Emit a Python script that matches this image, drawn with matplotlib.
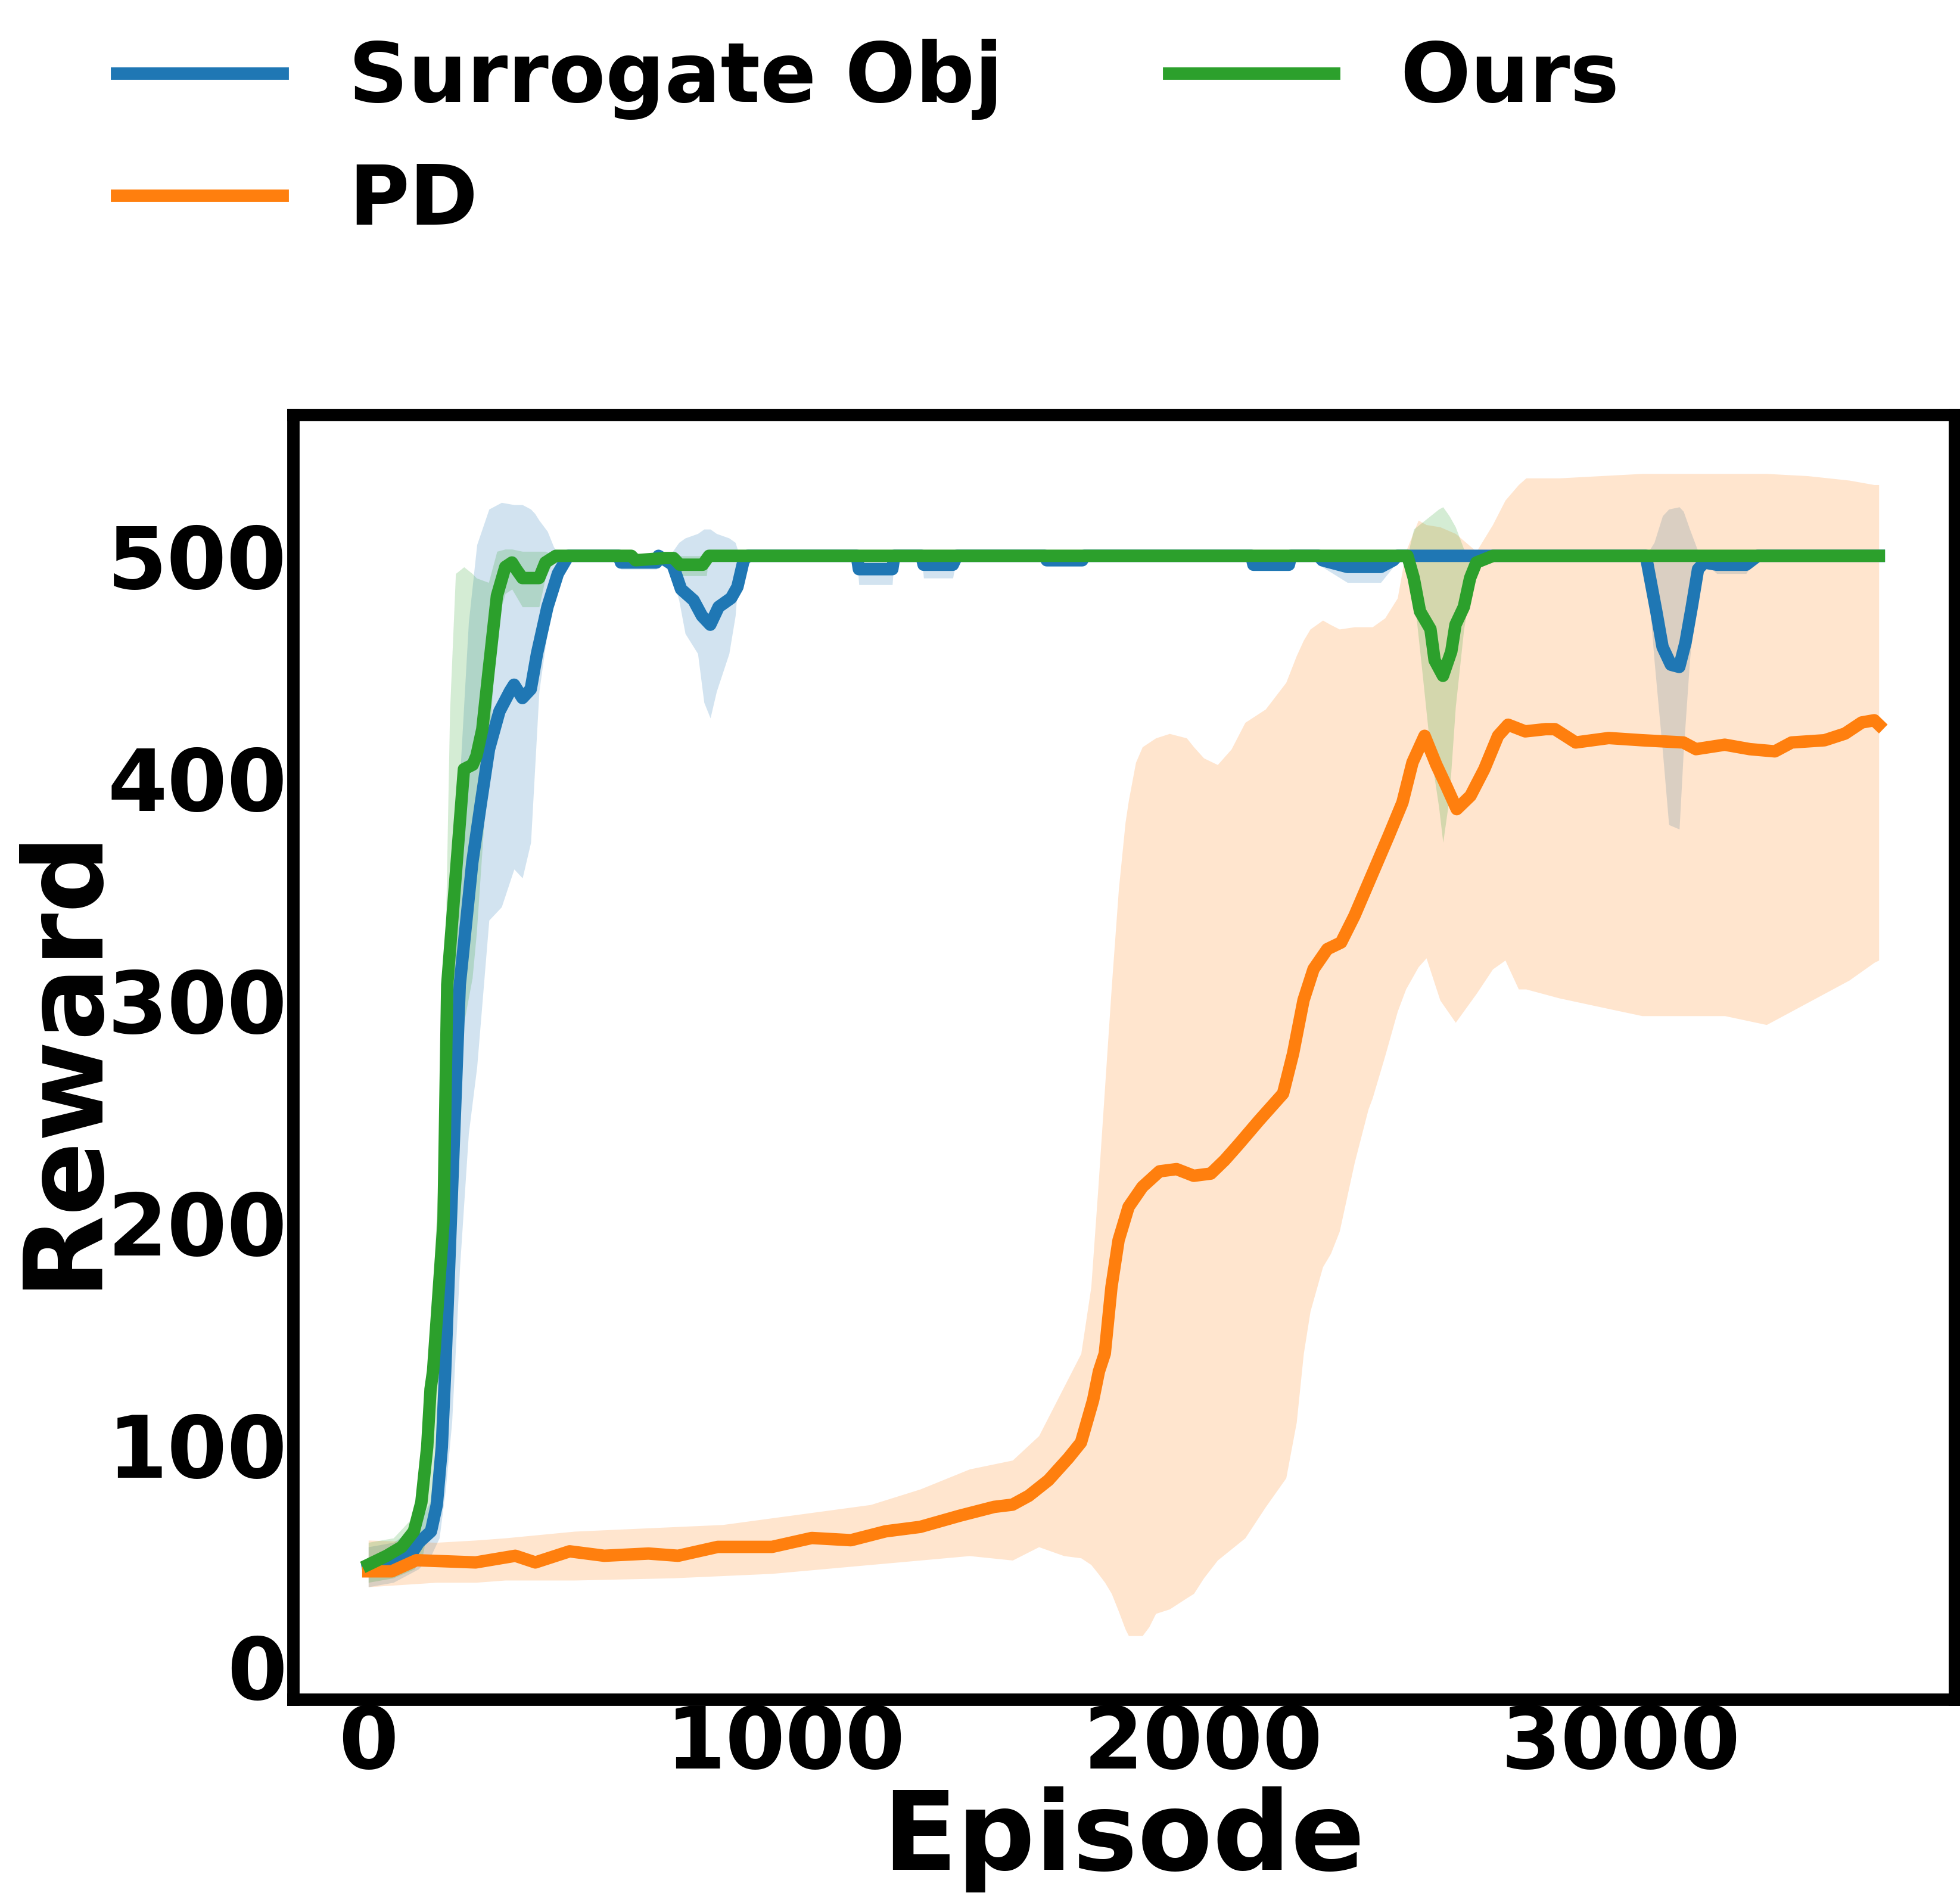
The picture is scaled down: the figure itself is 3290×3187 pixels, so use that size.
import numpy as np
import matplotlib
matplotlib.use("Agg")
import matplotlib.pyplot as plt

plt.rcParams['font.family'] = ['DejaVu Sans']
plt.rcParams['font.weight'] = 'bold'
plt.rcParams['axes.labelweight'] = 'bold'

# ---- mean curves ----
surr_x = [0, 50, 100, 121, 150, 164, 176, 184, 219, 249, 269, 289, 314, 339, 349, 369, 389, 404, 429, 454, 479,
          600, 605, 690, 695, 729, 749, 779, 799, 819, 839, 869, 884, 899, 909,
          1170, 1175, 1255, 1260, 1325, 1330, 1400, 1410, 1620, 1625, 1710, 1715,
          2115, 2120, 2205, 2210, 2276, 2285, 2345, 2425, 2455, 2465,
          3060, 3070, 3085, 3100, 3120, 3140, 3155, 3170, 3185, 3200, 3230, 3300, 3328, 3618]
surr_y = [44, 46, 50, 56, 61, 73, 99, 133, 307, 362, 388, 413, 430, 439, 442, 436, 440, 456, 477, 492, 500,
          500, 497, 497, 500, 496, 485, 480, 473, 469, 477, 481, 486, 498, 500,
          500, 494, 494, 500, 500, 496, 496, 500, 500, 498, 498, 500,
          500, 496, 496, 500, 500, 498, 495, 495, 498, 500,
          500, 490, 475, 459, 451, 450, 461, 477, 494, 497, 496, 496, 500, 500]

pd_x = [0, 56, 115, 257, 352, 400, 482, 565, 671, 742, 837, 967, 1062, 1156, 1239, 1322, 1416, 1499, 1543,
        1582, 1629, 1677, 1707, 1736, 1750, 1764, 1780, 1797, 1821, 1854, 1895, 1936, 1977, 2018, 2051,
        2084, 2134, 2191, 2215, 2240, 2264, 2297, 2330, 2362, 2403, 2444, 2477, 2501, 2530, 2558, 2583,
        2607, 2640, 2673, 2706, 2730, 2771, 2820, 2842, 2892, 2971, 3051, 3150, 3180, 3249, 3309, 3369,
        3409, 3488, 3537, 3577, 3607, 3618]
pd_y = [43, 43, 48, 47, 50, 47, 52, 50, 51, 50, 54, 54, 58, 57, 61, 63, 68, 72, 73,
        77, 84, 94, 101, 120, 133, 141, 171, 192, 207, 216, 223, 224, 221, 222, 228,
        235, 246, 258, 276, 300, 314, 323, 326, 338, 356, 374, 389, 407, 419, 406, 396,
        386, 392, 404, 419, 424, 421, 422, 422, 416, 418, 417, 416, 413, 415, 413, 412,
        416, 417, 420, 425, 426, 424]

ours_x = [0, 44, 80, 109, 127, 141, 149, 155, 180, 189, 229, 250, 259, 273, 288, 308, 328, 344, 354, 369,
          409, 424, 449, 630, 640, 711, 731, 746, 801, 816,
          2489, 2504, 2519, 2544, 2554, 2574, 2594, 2604, 2624, 2639, 2654, 2694, 3618]
ours_y = [46, 50, 54, 61, 74, 99, 125, 133, 200, 307, 404, 406, 410, 422, 448, 482, 495, 497, 494, 490,
          490, 497, 500, 500, 498, 499, 499, 496, 496, 500,
          500, 490, 475, 467, 453, 446, 457, 469, 477, 490, 497, 500, 500]

# ---- shaded bands (lower / upper) ----
surr_bx = [0, 60, 120, 150, 170, 185, 200, 219, 240, 260, 289, 319, 349, 369, 389, 399, 409, 429, 444, 459,
           600, 605, 690, 695, 729, 744, 759, 789, 804, 819, 834, 864, 879, 889, 909,
           1170, 1175, 1255, 1260, 1325, 1330, 1400, 1410, 1620, 1625, 1710, 1715,
           2115, 2120, 2205, 2210, 2276, 2285, 2345, 2425, 2455, 2465,
           3060, 3080, 3100, 3115, 3140, 3150, 3165, 3185, 3200, 3230, 3300, 3328, 3618]
surr_lo = [36, 38, 44, 50, 58, 80, 110, 180, 240, 270, 336, 342, 359, 355, 371, 405, 439, 466, 494, 500,
           500, 494, 494, 500, 490, 480, 465, 456, 434, 427, 439, 456, 473, 497, 500,
           500, 487, 487, 500, 500, 490, 490, 500, 500, 497, 497, 500,
           500, 496, 496, 500, 500, 495, 488, 488, 495, 500,
           500, 453, 412, 379, 377, 412, 453, 490, 497, 492, 492, 500, 500]
surr_hi = [54, 56, 64, 75, 110, 200, 330, 400, 470, 505, 521, 524, 523, 523, 521, 519, 516, 511, 504, 500,
           500, 500, 500, 500, 502, 506, 508, 510, 512, 512, 510, 508, 506, 500, 500,
           500, 500, 500, 500, 500, 500, 500, 500, 500, 500, 500, 500,
           500, 500, 500, 500, 500, 500, 500, 500, 500, 500,
           500, 506, 518, 521, 522, 520, 512, 502, 500, 500, 500, 500, 500]

pd_bx = [0, 163, 257, 328, 494, 730, 849, 967, 1085, 1203, 1322, 1440, 1543, 1606, 1666, 1707, 1731, 1748,
         1764, 1780, 1797, 1813, 1821, 1838, 1854, 1870, 1886, 1919, 1960, 1977, 2001, 2034, 2067, 2100,
         2149, 2198, 2223, 2240, 2256, 2286, 2305, 2326, 2362, 2395, 2405, 2435, 2465, 2485, 2515, 2534,
         2567, 2604, 2654, 2693, 2723, 2755, 2773, 2852, 2951, 3051, 3150, 3249, 3349, 3448, 3547, 3607, 3618]
pd_lo = [36, 38, 38, 39, 39, 40, 41, 42, 44, 46, 48, 50, 48, 54, 50, 49, 46, 42,
         38, 33, 25, 17, 14, 14, 14, 18, 24, 26, 31, 33, 40, 48, 53, 58,
         72, 85, 110, 141, 160, 180, 186, 196, 227, 251, 256, 275, 295, 305, 315, 319,
         300, 290, 303, 314, 318, 305, 305, 301, 297, 293, 293, 293, 289, 299, 309, 317, 318]
pd_hi = [57, 56, 57, 58, 61, 63, 64, 67, 70, 73, 80, 89, 93, 104, 126, 141, 171, 216,
         261, 306, 350, 380, 390, 407, 414, 416, 418, 420, 418, 414, 409, 406, 413, 425,
         431, 443, 455, 462, 467, 471, 469, 467, 468, 468, 468, 472, 481, 502, 516, 514,
         513, 510, 502, 514, 525, 532, 535, 535, 536, 537, 537, 537, 537, 536, 534, 532, 532]

ours_bx = [0, 60, 110, 130, 150, 170, 185, 195, 209, 229, 249, 259, 288, 308, 328, 344, 369, 409, 424, 449,
           730, 740, 810, 816,
           2489, 2504, 2524, 2544, 2564, 2574, 2589, 2604, 2624, 2644, 2664, 2694, 3618]
ours_lo = [38, 40, 44, 50, 70, 100, 150, 200, 250, 290, 310, 330, 410, 470, 483, 485, 477, 477, 490, 500,
           500, 491, 491, 500,
           500, 483, 448, 412, 387, 371, 391, 432, 467, 490, 498, 500, 500]
ours_hi = [56, 58, 68, 85, 150, 230, 330, 430, 492, 495, 492, 490, 488, 502, 503, 503, 502, 502, 502, 500,
           500, 500, 500, 500,
           500, 512, 515, 518, 521, 522, 518, 513, 503, 500, 500, 500, 500]

labels = ['Surrogate Obj', 'PD', 'Ours']
colors = ['#1f77b4', '#ff7f0e', '#2ca02c']

fig = plt.figure(figsize=(16.455, 15.935), dpi=200)
ax = fig.add_axes([0.14935, 0.10527, 0.99681 - 0.14935, 0.78161 - 0.10527])

series = [
    (surr_x, surr_y, surr_bx, surr_lo, surr_hi),
    (pd_x, pd_y, pd_bx, pd_lo, pd_hi),
    (ours_x, ours_y, ours_bx, ours_lo, ours_hi),
]
handles = []
for (mx, my, bx, lo, hi), lab, col in zip(series, labels, colors):
    ax.fill_between(bx, lo, hi, color=col, alpha=0.2, linewidth=0)
    h, = ax.plot(mx, my, color=col, linewidth=7.5, label=lab)
    handles.append(h)

ax.set_ylim(-14.5, 563.5)
ax.set_xticks([0, 1000, 2000, 3000])
ax.set_yticks([0, 100, 200, 300, 400, 500])
for s in ax.spines.values():
    s.set_linewidth(7.5)
ax.tick_params(axis='both', length=0, labelsize=52)
ax.tick_params(axis='x', pad=2.5)
ax.tick_params(axis='y', pad=3.5)
for t in ax.get_xticklabels() + ax.get_yticklabels():
    t.set_fontweight('bold')

ax.set_xlabel('Episode', fontsize=66, fontweight='bold', labelpad=0)
ax.set_ylabel('Reward', fontsize=66, fontweight='bold', labelpad=-5)

fig.legend(handles=handles, loc='upper left', bbox_to_anchor=(0.0428, 0.997), ncol=2, frameon=False,
           prop={'size': 50, 'weight': 'bold'}, handlelength=2.0, labelspacing=0.5,
           borderaxespad=0, columnspacing=2.0)

fig.savefig('out.png', dpi=200)
